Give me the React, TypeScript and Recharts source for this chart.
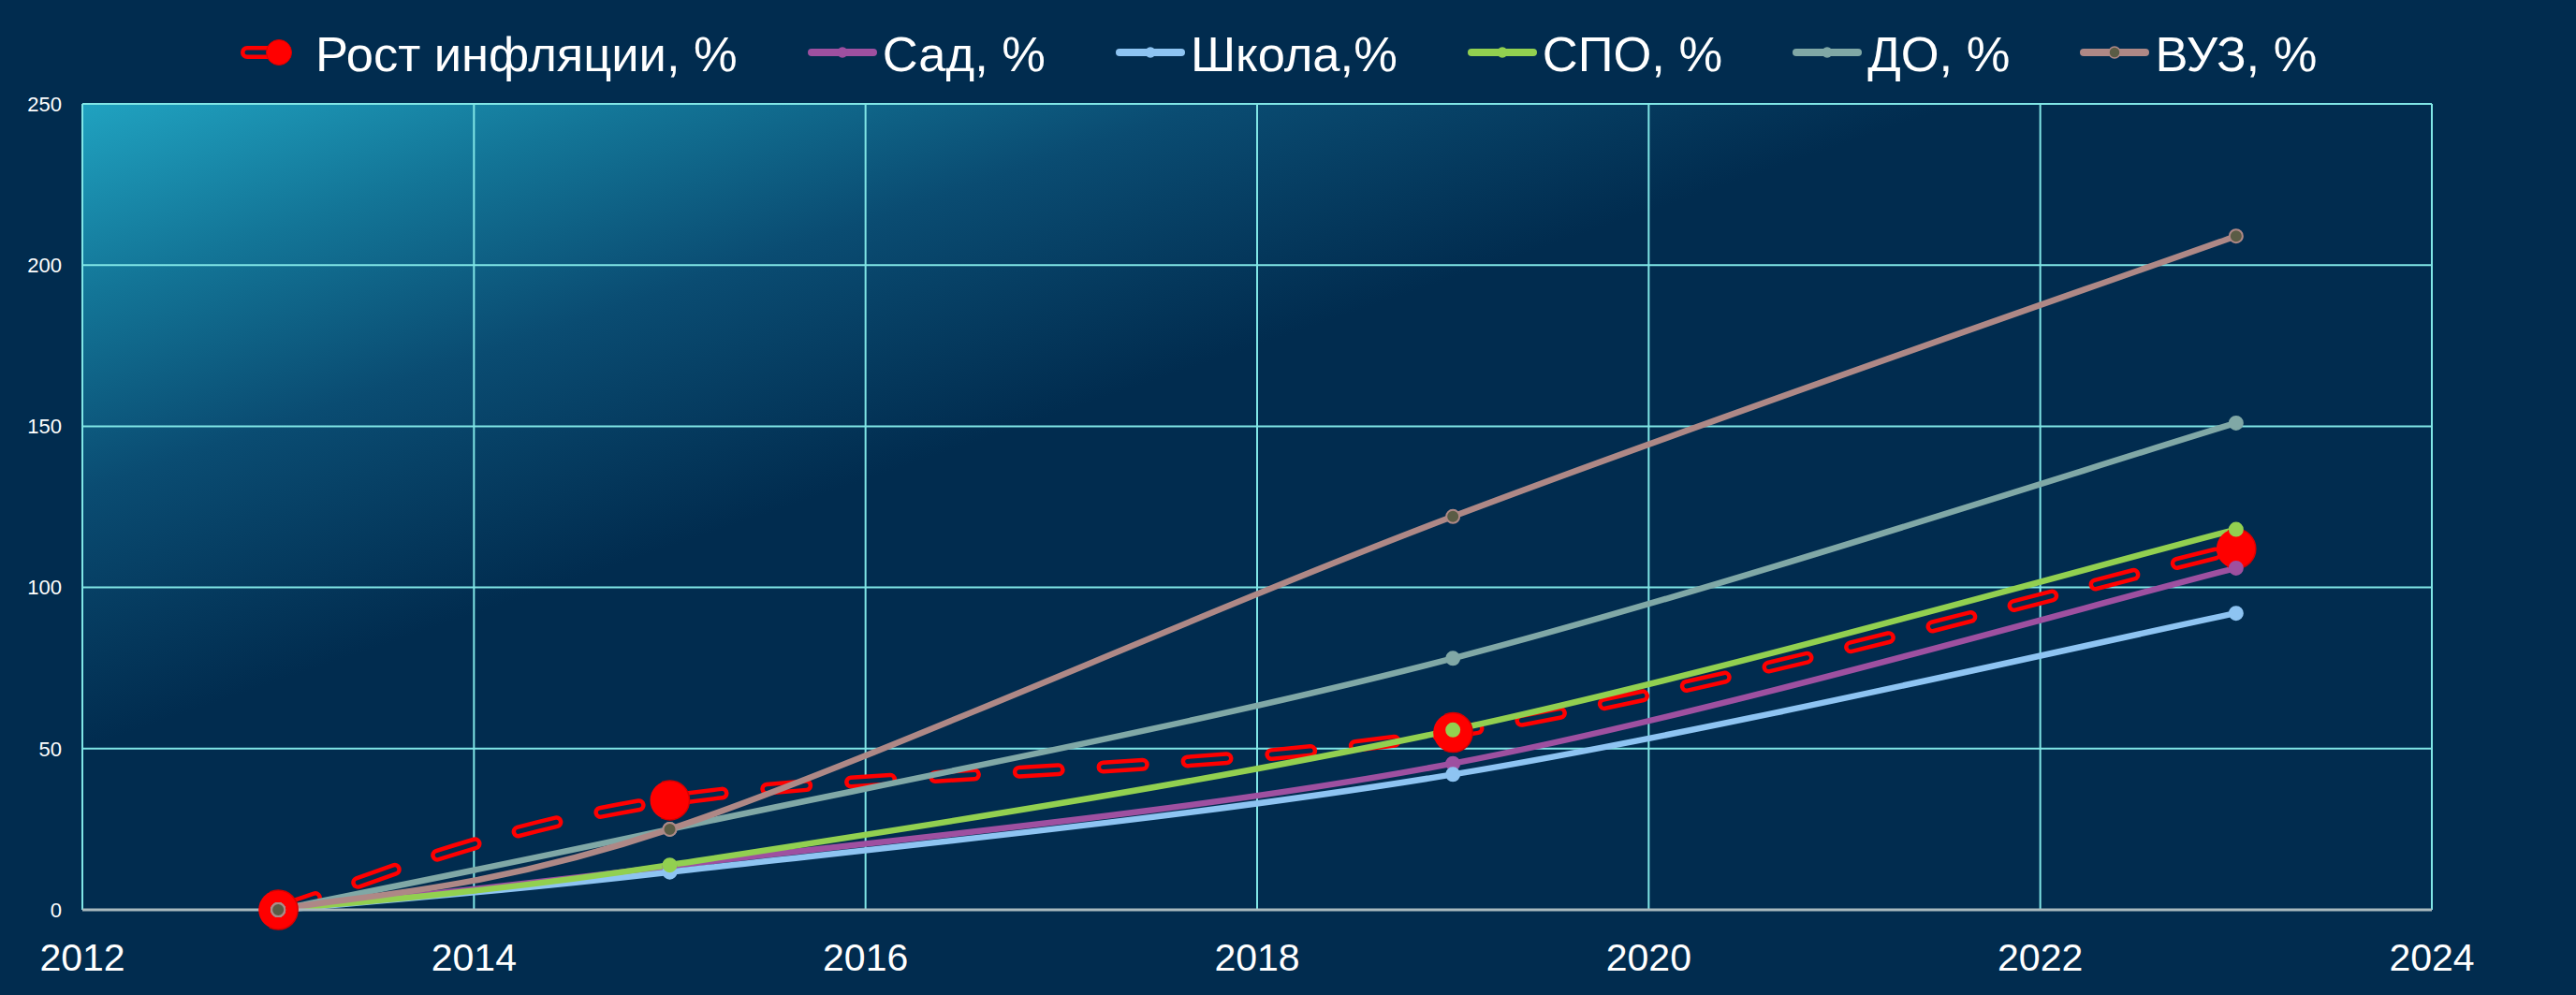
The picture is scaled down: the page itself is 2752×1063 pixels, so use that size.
import React from 'react';
import { LineChart, Line, XAxis, YAxis, CartesianGrid, Legend } from 'recharts';

const years = [2013, 2015, 2019, 2023];
const inflation = [0, 34, 55, 112];
const sad = [0, 13.5, 45.4, 106];
const school = [0, 11.7, 42, 92];
const spo = [0, 13.9, 55.8, 118];
const dop = [0, 25, 78, 151];
const vuz = [0, 25, 122, 209];

const xTicks = [2012, 2014, 2016, 2018, 2020, 2022, 2024];
const yTicks = [0, 50, 100, 150, 200, 250];

const seriesNames = ['Рост инфляции, %', 'Сад, %', 'Школа,%', 'СПО, %', 'ДО, %', 'ВУЗ, %'];
const seriesKeys = ['inf', 'sad', 'school', 'spo', 'dop', 'vuz'];
const seriesColors = ['#ff0000', '#9e50a0', '#8ec4f2', '#92d050', '#80a8a6', '#ae8886'];

const data = years.map((y, i) => ({
  year: y,
  inf: inflation[i],
  sad: sad[i],
  school: school[i],
  spo: spo[i],
  dop: dop[i],
  vuz: vuz[i],
}));

const BG = '#012c4f';
const GRID = '#80e6e6';
const FONT = '"Liberation Sans", Arial, sans-serif';
const VUZ_DOT = '#5a5c45';

// Spreadsheet-style smoothed line (Catmull-Rom through the points)
const smoothCurve = (context: any) => {
  let pts: number[][] = [];
  return {
    areaStart() {},
    areaEnd() {},
    lineStart() {
      pts = [];
    },
    point(x: number, y: number) {
      pts.push([+x, +y]);
    },
    lineEnd() {
      const n = pts.length;
      if (n === 0) return;
      context.moveTo(pts[0][0], pts[0][1]);
      for (let i = 0; i < n - 1; i++) {
        const p0 = pts[Math.max(i - 1, 0)];
        const p1 = pts[i];
        const p2 = pts[i + 1];
        const p3 = pts[Math.min(i + 2, n - 1)];
        const c1x = p1[0] + (p2[0] - p0[0]) / 6;
        const c1y = p1[1] + (p2[1] - p0[1]) / 6;
        const c2x = p2[0] - (p3[0] - p1[0]) / 6;
        const c2y = p2[1] - (p3[1] - p1[1]) / 6;
        context.bezierCurveTo(c1x, c1y, c2x, c2y, p2[0], p2[1]);
      }
    },
  };
};

const LegendContent = () => (
  <div style={{ position: 'relative', width: 2752, height: 100 }}>
    <div
      style={{
        position: 'absolute',
        top: 33,
        left: 257,
        height: 50,
        display: 'flex',
        alignItems: 'center',
        whiteSpace: 'nowrap',
      }}
    >
      {seriesNames.map((name, i) => (
        <div key={name} style={{ display: 'flex', alignItems: 'center', marginRight: 75 }}>
          <svg width={74} height={50} style={{ marginRight: 6, display: 'block' }}>
            {i === 0 ? (
              <g>
                <line x1={7} y1={23} x2={36} y2={23} stroke="#ff0000" strokeWidth={14} strokeLinecap="round" />
                <line x1={7} y1={23} x2={36} y2={23} stroke={BG} strokeWidth={5} strokeLinecap="round" />
                <circle cx={41} cy={23} r={13.5} fill="#ff0000" stroke="#d80000" strokeWidth={1} />
              </g>
            ) : (
              <g>
                <line x1={4} y1={23} x2={70} y2={23} stroke={seriesColors[i]} strokeWidth={8} strokeLinecap="round" />
                <circle
                  cx={37}
                  cy={23}
                  r={i === 5 ? 6 : 5}
                  fill={i === 5 ? VUZ_DOT : seriesColors[i]}
                  stroke={seriesColors[i]}
                  strokeWidth={1.5}
                />
              </g>
            )}
          </svg>
          <span style={{ fontFamily: FONT, fontSize: 52.5, lineHeight: '50px', color: '#ffffff' }}>{name}</span>
        </div>
      ))}
    </div>
  </div>
);

export default function App() {
  return (
    <div style={{ position: 'absolute', left: 0, top: 0, width: 2752, height: 1063, background: BG }}>
      <LineChart
        width={2752}
        height={1063}
        data={data}
        margin={{ top: 11, right: 154, bottom: 31, left: 28 }}
      >
        <defs>
          <linearGradient id="plotGrad" x1="0" y1="0" x2="1" y2="1">
            <stop offset="0" stopColor="#20a2c0" />
            <stop offset="0.12" stopColor="#137597" />
            <stop offset="0.24" stopColor="#0a4c72" />
            <stop offset="0.4" stopColor={BG} />
            <stop offset="1" stopColor={BG} />
          </linearGradient>
        </defs>
        <Legend
          verticalAlign="top"
          align="left"
          content={<LegendContent />}
          wrapperStyle={{ position: 'absolute', top: 0, left: 0, width: 2752, height: 100 }}
        />
        <CartesianGrid
          fill="url(#plotGrad)"
          fillOpacity={1}
          stroke={GRID}
          strokeWidth={2}
          horizontalValues={yTicks}
          verticalValues={xTicks}
        />
        <XAxis
          dataKey="year"
          type="number"
          domain={[2012, 2024]}
          ticks={xTicks}
          allowDataOverflow
          height={60}
          tickLine={false}
          tickSize={0}
          tickMargin={36}
          axisLine={{ stroke: '#a9b9bd', strokeWidth: 3 }}
          tick={{ fill: '#ffffff', fontSize: 41, fontFamily: FONT }}
          interval={0}
        />
        <YAxis
          type="number"
          domain={[0, 250]}
          ticks={yTicks}
          width={60}
          axisLine={false}
          tickLine={false}
          tickSize={0}
          tickMargin={22}
          tick={{ fill: '#ffffff', fontSize: 22, fontFamily: FONT }}
          interval={0}
        />
        <Line
          type={smoothCurve as any}
          dataKey="inf"
          stroke="#ff0000"
          strokeWidth={14}
          strokeDasharray="42 48"
          strokeLinecap="round"
          dot={false}
          activeDot={false}
          isAnimationActive={false}
        />
        <Line
          type={smoothCurve as any}
          dataKey="inf"
          stroke={BG}
          strokeWidth={5}
          strokeDasharray="42 48"
          strokeLinecap="round"
          dot={{ r: 21, fill: '#ff0000', stroke: '#d80000', strokeWidth: 1.5 }}
          activeDot={false}
          isAnimationActive={false}
          legendType="none"
        />
        {seriesKeys.slice(1).map((k, j) => {
          const i = j + 1;
          const isVuz = k === 'vuz';
          return (
            <Line
              key={k}
              type={smoothCurve as any}
              dataKey={k}
              stroke={seriesColors[i]}
              strokeWidth={6.5}
              dot={{
                r: 7,
                fill: isVuz ? VUZ_DOT : seriesColors[i],
                stroke: seriesColors[i],
                strokeWidth: 2,
              }}
              activeDot={false}
              isAnimationActive={false}
            />
          );
        })}
      </LineChart>
    </div>
  );
}
